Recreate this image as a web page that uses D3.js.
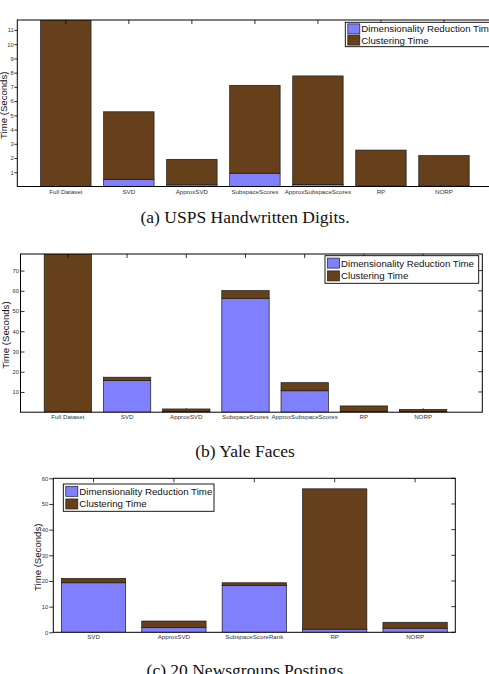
<!DOCTYPE html>
<html><head><meta charset="utf-8">
<script src="https://cdn.jsdelivr.net/npm/d3@7"></script>
<style>html,body{margin:0;padding:0;background:#fff;overflow:hidden}</style>
</head><body>
<script>
// ---- data ----
const seriesNames = ["Dimensionality Reduction Time", "Clustering Time"];

const catsA = ["Full Dataset","SVD","ApproxSVD","SubspaceScores","ApproxSubspaceScores","RP","NORP"];
const drA   = [0, 0.5, 0.12, 0.93, 0.15, 0.03, 0.03];
const clA   = [14, 4.75, 1.79, 6.18, 7.62, 2.53, 2.14];
const ticksA = [1,2,3,4,5,6,7,8,9,10,11];

const catsB = ["Full Dataset","SVD","ApproxSVD","SubspaceScores","ApproxSubspaceScores","RP","NORP"];
const drB   = [0, 15.6, 0.4, 56.3, 10.6, 0.3, 0.3];
const clB   = [100, 1.7, 1.2, 3.8, 4.0, 2.8, 1.1];
const ticksB = [10,20,30,40,50,60,70];

const catsC = ["SVD","ApproxSVD","SubspaceScoreRank","RP","NORP"];
const drC   = [19.3, 1.8, 18.2, 1.2, 1.6];
const clC   = [1.7, 2.6, 1.1, 54.7, 2.3];
const ticksC = [0,10,20,30,40,50,60];

const captions = ["(a) USPS Handwritten Digits.", "(b) Yale Faces", "(c) 20 Newsgroups Postings"];

// ---- styles ----
const colDR = "#8080ff", colCL = "#65401b";
const W = 489, H = 674;
const svg = d3.select("body").append("svg").attr("width", W).attr("height", H)
  .style("font-family", "'Liberation Sans', Arial, sans-serif");

const panels = [
  {cats: catsA, dr: drA, cl: clA, ticks: ticksA, cap: captions[0],
   xd: [0.23, 8.0], xr: [17.3, 507], yd: [0, 11.7], yr: [186.5, 20],
   tickSize: 3, tickPad: 0.6,
   ylabX: 3, capY: 222.5, legend: {x: 345.3, y: 22.3, w: 175, h: 24.4}},
  {cats: catsB, dr: drB, cl: clB, ticks: ticksB, cap: captions[1],
   xd: [0.2, 8.0], xr: [20.5, 482.3], yd: [0, 78.2], yr: [412.2, 254],
   tickSize: -4, tickPad: 1.5,
   ylabX: 5.5, capY: 457.3, legend: {x: 325, y: 255.7, w: 153.7, h: 27.6}},
  {cats: catsC, dr: drC, cl: clC, ticks: ticksC, cap: captions[2],
   xd: [0.5, 5.5], xr: [53.3, 455.3], yd: [0, 60], yr: [632.3, 478.3],
   tickSize: 4, tickPad: 1,
   ylabX: 37.3, capY: 676, legend: {x: 63.3, y: 484, w: 150.7, h: 27.3}}
];

panels.forEach((p, pi) => {
  const x = d3.scaleLinear().domain(p.xd).range(p.xr);
  const y = d3.scaleLinear().domain(p.yd).range(p.yr);
  const g = svg.append("g");
  const x0 = p.xr[0], x1 = p.xr[1], yT = p.yr[1], yB = p.yr[0];
  const idx = p.cats.map((c, i) => i + 1);

  const clipId = "clip" + pi;
  svg.append("clipPath").attr("id", clipId).append("rect")
    .attr("x", x0).attr("y", yT).attr("width", x1 - x0).attr("height", yB - yT);

  const tl = 4;
  // bottom ticks (inward, behind bars)
  g.selectAll(".bt").data(idx).join("line")
    .attr("x1", d => x(d)).attr("x2", d => x(d)).attr("y1", yB).attr("y2", yB - tl)
    .attr("stroke", "#000").attr("stroke-width", 0.8);

  // stacked bars
  const bw = x(1.8) - x(1);
  const stackData = p.cats.map((c, i) => ({i: i + 1, dr: p.dr[i], cl: p.cl[i]}));
  const stack = d3.stack().keys(["dr", "cl"])(stackData);
  const colors = [colDR, colCL];
  const bars = g.append("g").attr("clip-path", `url(#${clipId})`);
  stack.forEach((layer, li) => {
    bars.selectAll(".l" + li).data(layer).join("rect")
      .attr("x", d => x(d.data.i) - bw / 2)
      .attr("width", bw)
      .attr("y", d => y(d[1]))
      .attr("height", d => Math.max(0, y(d[0]) - y(d[1])))
      .attr("fill", colors[li])
      .attr("stroke", "#1a1a1a").attr("stroke-width", 0.7);
  });

  // top ticks (inward)
  g.selectAll(".tt").data(idx).join("line")
    .attr("x1", d => x(d)).attr("x2", d => x(d)).attr("y1", yT).attr("y2", yT + tl)
    .attr("stroke", "#000").attr("stroke-width", 0.8);
  // right ticks (inward)
  g.selectAll(".rt").data(p.ticks).join("line")
    .attr("x1", x1).attr("x2", x1 - tl).attr("y1", d => y(d)).attr("y2", d => y(d))
    .attr("stroke", "#000").attr("stroke-width", 0.8);

  // left axis
  const yAxis = d3.axisLeft(y).tickValues(p.ticks)
    .tickSize(p.tickSize).tickPadding(p.tickPad)
    .tickFormat(d3.format("d"));
  const ya = g.append("g").attr("transform", `translate(${x0},0)`).call(yAxis);
  ya.select(".domain").remove();
  ya.selectAll("line").attr("stroke", "#000").attr("stroke-width", 0.8);
  ya.selectAll("text").attr("font-size", 5.8).attr("fill", "#333")
    .attr("font-family", "'Liberation Sans', Arial, sans-serif");

  // x labels
  g.selectAll(".xl").data(p.cats).join("text")
    .attr("x", (d, i) => x(i + 1)).attr("y", yB + 7)
    .attr("text-anchor", "middle").attr("font-size", 6.2).attr("fill", "#333")
    .text(d => d);

  // box
  g.append("rect").attr("x", x0).attr("y", yT).attr("width", x1 - x0).attr("height", yB - yT)
    .attr("fill", "none").attr("stroke", "#000").attr("stroke-width", 1);

  // y label
  g.append("text")
    .attr("transform", `translate(${p.ylabX},${(yT + yB) / 2 + 2}) rotate(-90)`)
    .attr("text-anchor", "middle").attr("dominant-baseline", "central")
    .attr("font-size", 9.6).attr("fill", "#111").text("Time (Seconds)");

  // legend
  const L = p.legend;
  const lg = g.append("g");
  lg.append("rect").attr("x", L.x).attr("y", L.y).attr("width", L.w).attr("height", L.h)
    .attr("fill", "#fff").attr("stroke", "#000").attr("stroke-width", 0.9);
  const rowH = (L.h - 2) / 2;
  seriesNames.forEach((s, si) => {
    const cy = L.y + 1 + rowH * (si + 0.5);
    lg.append("rect").attr("x", L.x + 2.5).attr("y", cy - 5).attr("width", 12).attr("height", 10)
      .attr("fill", colors[si]).attr("stroke", "#1a1a1a").attr("stroke-width", 0.7);
    lg.append("text").attr("x", L.x + 16).attr("y", cy + 3.4)
      .attr("font-size", 9.7).attr("fill", "#111").text(s);
  });

  // caption
  svg.append("text").attr("x", 245).attr("y", p.capY).attr("text-anchor", "middle")
    .attr("font-family", "'Liberation Serif', 'Times New Roman', serif")
    .attr("font-size", 17.5).attr("fill", "#111").text(p.cap);
});
</script>
</body></html>
